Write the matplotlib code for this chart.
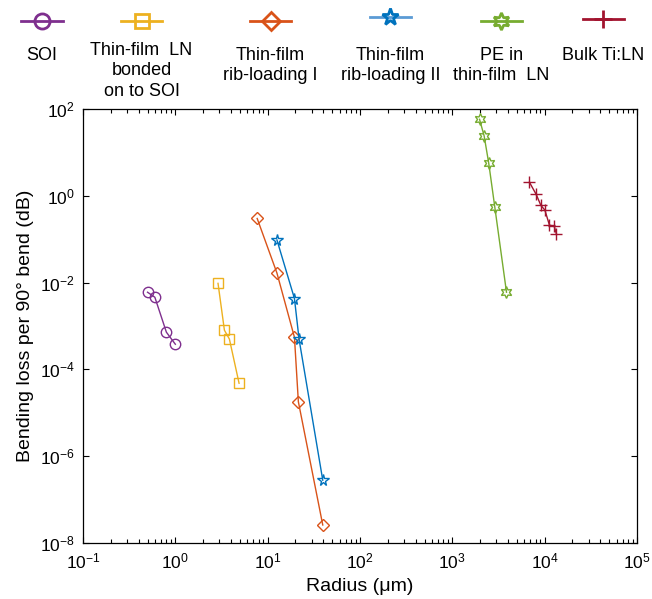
import matplotlib
matplotlib.use('Agg')
import matplotlib.pyplot as plt
from matplotlib.lines import Line2D
from matplotlib.ticker import LogLocator, NullFormatter, NullLocator

plt.rcParams['font.family'] = ['Liberation Sans', 'DejaVu Sans']
plt.rcParams['axes.unicode_minus'] = False

# radius (um) and bending loss per 90 deg bend (dB)
soi_r = [0.5, 0.6, 0.8, 1.0]
soi_loss = [6e-3, 4.6e-3, 7.2e-4, 3.8e-4]

bonded_r = [2.9, 3.4, 3.85, 4.9]
bonded_loss = [9.6e-3, 8e-4, 5e-4, 4.8e-5]

rib1_r = [7.7, 12.6, 19.5, 21.5, 39.5]
rib1_loss = [0.30, 0.0166, 5.5e-4, 1.8e-5, 2.6e-8]

rib2_r = [12.6, 19.5, 21.9, 39.5]
rib2_loss = [0.096, 4.3e-3, 4.9e-4, 2.8e-7]

pe_r = [1970, 2210, 2480, 2880, 3860]
pe_loss = [58, 24, 5.6, 0.56, 6.0e-3]

bulk_r = [6840, 8090, 9100, 10050, 11270, 12680, 13430]
bulk_loss = [2.05, 1.08, 0.60, 0.47, 0.21, 0.20, 0.13]

xticks = [1e-1, 1e0, 1e1, 1e2, 1e3, 1e4, 1e5]
yticks = [1e-8, 1e-6, 1e-4, 1e-2, 1e0, 1e2]

labels = ['SOI', 'Thin-film  LN\nbonded\non to SOI', 'Thin-film\nrib-loading I',
          'Thin-film\nrib-loading II', 'PE in\nthin-film  LN', 'Bulk Ti:LN']
colors = ['#7E2F8E', '#EDB120', '#D95319', '#0072BD', '#77AC30', '#A2142F']
markers = ['o', 's', 'D', '*', (6, 1, 0), '+']
msizes = [7.5, 6.5, 6.5, 8.5, 8.5, 9]

series = [(soi_r, soi_loss), (bonded_r, bonded_loss), (rib1_r, rib1_loss),
          (rib2_r, rib2_loss), (pe_r, pe_loss), (bulk_r, bulk_loss)]

fig = plt.figure(figsize=(6.52, 5.99), dpi=100)
ax = fig.add_axes([83/652, 1-543/599, 554/652, 434/599])

for (r, loss), c, m, ms in zip(series, colors, markers, msizes):
    ax.plot(r, loss, color=c, lw=1.0, marker=m, ms=ms, mfc='none', mec=c, mew=1.0)

ax.set_xscale('log')
ax.set_yscale('log')
ax.set_xlim(1e-1, 1e5)
ax.set_ylim(1e-8, 1e2)
ax.set_xticks(xticks)
ax.set_yticks(yticks)
ax.yaxis.set_minor_locator(NullLocator())
ax.xaxis.set_minor_locator(LogLocator(base=10, subs=range(2, 10), numticks=20))
ax.xaxis.set_minor_formatter(NullFormatter())
ax.tick_params(which='both', direction='in', top=True, right=True, labelsize=12.5, width=0.8)
ax.tick_params(which='major', length=4, pad=6)
ax.tick_params(which='minor', length=3)
for s in ax.spines.values():
    s.set_linewidth(0.9)

ax.set_xlabel('Radius (μm)', fontsize=14, labelpad=5)
ax.set_ylabel('Bending loss per 90° bend (dB)', fontsize=14, labelpad=4)

# legend drawn as a row above the axes: sample line on top, label beneath
centers = [42, 141.5, 270.5, 390.3, 501.3, 603.3]
line_y = [20.7, 20.7, 20.7, 17.3, 20.7, 19]
text_top = [47, 42, 47, 47, 47, 47]
legend_line_colors = colors[:]
legend_line_colors[3] = '#5B9BD5'
for cx, ly, ty, lab, c, lc, m, ms in zip(centers, line_y, text_top, labels, colors,
                                         legend_line_colors, markers, msizes):
    fy = 1 - ly/599
    fig.add_artist(Line2D([(cx-20.5)/652, (cx+20.5)/652], [fy, fy], color=lc, lw=2,
                          transform=fig.transFigure))
    fig.add_artist(Line2D([cx/652], [fy], color=c, marker=m, ms=ms*1.45, mfc='none',
                          mec=c, mew=2, linestyle='none', transform=fig.transFigure))
    fig.text(cx/652, 1 - ty/599, lab, ha='center', va='top', fontsize=13,
             linespacing=1.25, multialignment='center')

fig.savefig('out.png', dpi=100)
